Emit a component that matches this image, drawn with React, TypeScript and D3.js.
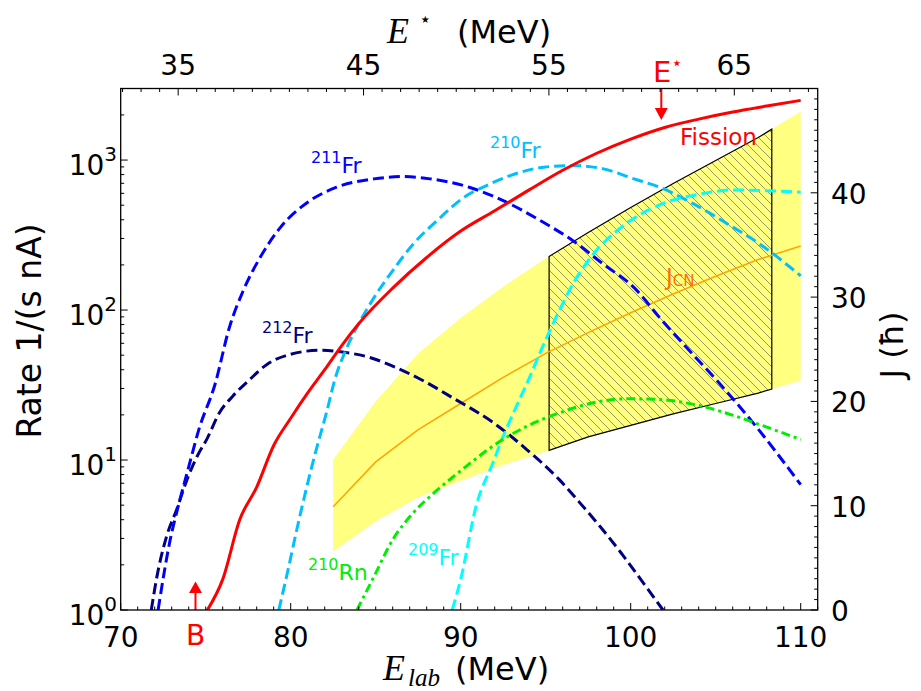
import React from 'react';
import * as d3 from 'd3';

// ---------- data ----------
const fissionE = [75.1, 76, 77, 78, 79, 80, 81, 82, 83, 84, 86, 88, 90, 92, 94, 96, 98, 100, 102, 104, 106, 108, 110];
const fissionR = [1.0, 1.6, 4.0, 6.6, 12.5, 19, 28, 40, 58, 81, 140, 224, 336, 459, 630, 855, 1110, 1380, 1650, 1875, 2090, 2290, 2500];

const fr211E = [72.2, 72.9, 73.4, 74.0, 74.6, 75.55, 76.4, 77.2, 78.2, 79.4, 81, 82.7, 84.9, 86.6, 88.2, 90.5, 92.5, 94.7, 96.6, 98.4, 100.2, 101.7, 103.3, 105.1, 107.2, 110];
const fr211R = [1, 2.9, 5, 9, 16, 32, 77, 134, 224, 356, 523, 659, 749, 776, 749, 659, 536, 394, 290, 202, 141, 89, 56, 33.6, 17.7, 6.85];

const fr212E = [71.8, 72.1, 72.7, 73.3, 73.9, 74.5, 75.1, 75.8, 76.6, 77.6, 78.6, 80, 81.7, 83.3, 84.7, 86.2, 87.6, 89.6, 91.9, 93.9, 95.8, 97, 98.2, 99.6, 100.9, 101.9];
const fr212R = [1, 1.6, 3.1, 4.7, 7.4, 10.6, 14, 20.6, 26.7, 34.5, 43.4, 50.7, 53.9, 52, 48.1, 41.3, 34.7, 25.7, 17.8, 11.7, 7.4, 5.2, 3.6, 2.27, 1.43, 1];

const fr210E = [79.3, 79.8, 80.35, 80.9, 81.5, 82.1, 82.6, 83.3, 84.1, 84.9, 86, 87.2, 88.6, 90.5, 91.1, 92.9, 94.9, 96.6, 98.4, 100.2, 101.7, 103.7, 105.7, 107.6, 110];
const fr210R = [1, 1.76, 3.4, 6.3, 11.7, 20.6, 34.5, 56, 85, 121, 183, 275, 394, 594, 642, 787, 897, 919, 873, 749, 659, 510, 375, 275, 169];

const fr209E = [89.5, 90, 90.9, 91.9, 92.5, 93.1, 94, 94.7, 95.6, 96.6, 97.8, 99.2, 100.6, 102.1, 104.1, 106, 108, 110];
const fr209R = [1, 1.6, 4.9, 9.6, 14.4, 20.6, 34.5, 53, 89, 149, 236, 338, 437, 523, 594, 632, 625, 610];

const rn210E = [83.9, 84.9, 86, 87.2, 88.4, 89.6, 90.6, 91.9, 93.9, 95.8, 97.8, 99.8, 101.7, 103.7, 105.6, 107.6, 110];
const rn210R = [1, 1.67, 2.94, 4.43, 6.0, 7.8, 9.6, 12.4, 16.8, 20.6, 24.1, 25.6, 25.3, 23.5, 20.6, 17.2, 13.7];

// J_CN band (right axis, units of hbar)
const bandE = [82.5, 85, 87.5, 90, 92.5, 95, 97.5, 100, 102.5, 105, 107.5, 110];
const bandMean = [9.9, 14.2, 17.3, 19.8, 22.3, 24.6, 26.6, 28.5, 30.3, 32.0, 33.6, 34.9];
const bandUpper = [14.4, 20.0, 24.6, 28.0, 31.0, 33.7, 36.2, 38.6, 40.9, 43.1, 45.3, 47.8];
const bandLower = [5.6, 8.5, 10.8, 12.4, 13.9, 15.2, 16.6, 17.7, 18.8, 19.8, 20.8, 22.0];
const hatchRange = [95.2, 108.3];

const barrierE = 74.4;
const estarE = 101.8;

const bottomMajor = [70, 80, 90, 100, 110];
const topMajor = [35, 45, 55, 65];
const leftMajor = [1, 10, 100, 1000];
const leftExp = ['0', '1', '2', '3'];
const rightMajor = [0, 10, 20, 30, 40];

// ---------- layout ----------
const W = 921, H = 691;
const L = 120.7, R = 817.7, T = 88.5, B = 610;

export default function App() {
  const x = d3.scaleLinear().domain([70, 111]).range([L, R]);
  const xTop = d3.scaleLinear().domain([31.9, 69.5]).range([L, R]);
  const y = d3.scaleLog().domain([1, 3000]).range([B, T]);
  const yJ = d3.scaleLinear().domain([0, 50]).range([B, T]);

  const rateLine = (E: number[], Rv: number[]) =>
    d3.line<number>().x((_, i) => x(E[i])).y((d) => y(d)).curve(d3.curveMonotoneX)(Rv) || '';

  const idx = bandE.map((_, i) => i);
  const bandPath = d3.area<number>()
    .x((i) => x(bandE[i]))
    .y0((i) => yJ(bandLower[i]))
    .y1((i) => yJ(bandUpper[i]))(idx) || '';
  const meanPath = d3.line<number>().x((i) => x(bandE[i])).y((i) => yJ(bandMean[i]))(idx) || '';

  const upI = d3.scaleLinear().domain(bandE).range(bandUpper);
  const loI = d3.scaleLinear().domain(bandE).range(bandLower);
  const [hs, he] = hatchRange;
  const polyE = [hs, ...bandE.filter((e) => e > hs && e < he), he];
  const pts: [number, number][] = [
    ...polyE.map((e) => [x(e), yJ(upI(e))] as [number, number]),
    ...polyE.slice().reverse().map((e) => [x(e), yJ(loI(e))] as [number, number]),
  ];
  const hatchPath = 'M' + pts.map((p) => p.join(',')).join('L') + 'Z';

  const bottomTicks = d3.range(70, 112, 1);
  const topTicks = d3.range(32, 70, 1);
  const leftMinor: number[] = [];
  for (let k = 0; k < 4; k++) for (let m = 2; m <= 9; m++) { const v = m * Math.pow(10, k); if (v <= 3000) leftMinor.push(v); }
  const rightTicks = d3.range(0, 51, 1);

  const font = 'DejaVu Sans';
  const serif = 'Liberation Serif';
  const dash = '11,5';

  const bx = x(barrierE);
  const ex = x(estarE);

  return (
    <svg width={W} height={H} style={{ position: 'absolute', left: 0, top: 0, background: '#fff' }} fontFamily={font}>
      <defs>
        <clipPath id="plotclip"><rect x={L} y={T} width={R - L} height={B - T} /></clipPath>
        <pattern id="hatch" patternUnits="userSpaceOnUse" width={9} height={9}>
          <path d="M0,0L9,9M-2,7L2,11M7,-2L11,2" stroke="#444" strokeWidth={0.55} />
        </pattern>
      </defs>
      <rect x={0} y={0} width={W} height={H} fill="#fff" />

      <g clipPath="url(#plotclip)">
        <path d={bandPath} fill="#ffff80" />
        <path d={hatchPath} fill="#ffff80" />
        <path d={hatchPath} fill="url(#hatch)" stroke="#000" strokeWidth={1.2} />
        <path d={meanPath} fill="none" stroke="#ffa500" strokeWidth={1.5} />

        <path d={rateLine(fr212E, fr212R)} fill="none" stroke="#000080" strokeWidth={3} strokeDasharray={dash} />
        <path d={rateLine(fr211E, fr211R)} fill="none" stroke="#0000ff" strokeWidth={3} strokeDasharray={dash} />
        <path d={rateLine(fr210E, fr210R)} fill="none" stroke="#00bfff" strokeWidth={3} strokeDasharray={dash} />
        <path d={rateLine(fr209E, fr209R)} fill="none" stroke="#00ffff" strokeWidth={3} strokeDasharray={dash} />
        <path d={rateLine(rn210E, rn210R)} fill="none" stroke="#00ee00" strokeWidth={3} strokeDasharray="9,4,3,4" />
        <path d={rateLine(fissionE, fissionR)} fill="none" stroke="#ff0000" strokeWidth={3} strokeLinejoin="round" />
      </g>

      {/* annotations */}
      <text x={311} y={173} fill="#0000ff" fontSize={22}><tspan fontSize={16} dy={-10}>211</tspan><tspan dy={10}>Fr</tspan></text>
      <text x={262} y={343} fill="#000080" fontSize={22}><tspan fontSize={16} dy={-10}>212</tspan><tspan dy={10}>Fr</tspan></text>
      <text x={490} y={158} fill="#00bfff" fontSize={22}><tspan fontSize={16} dy={-10}>210</tspan><tspan dy={10}>Fr</tspan></text>
      <text x={308} y={580} fill="#00ee00" fontSize={22}><tspan fontSize={16} dy={-10}>210</tspan><tspan dy={10}>Rn</tspan></text>
      <text x={408} y={565} fill="#00ffff" fontSize={22}><tspan fontSize={16} dy={-10}>209</tspan><tspan dy={10}>Fr</tspan></text>
      <text x={680} y={145} fill="#ff0000" fontSize={23}>Fission</text>
      <text x={666} y={285} fill="#ff7000" fontSize={23}>J<tspan fontSize={15} dy={1}>CN</tspan></text>

      {/* arrows */}
      <g fill="#ff0000" stroke="#ff0000">
        <line x1={bx} x2={bx} y1={B} y2={593} strokeWidth={2} />
        <path d={`M${bx - 6.5},593L${bx + 6.5},593L${bx},581.5Z`} stroke="none" />
        <line x1={ex} x2={ex} y1={T} y2={108} strokeWidth={2} />
        <path d={`M${ex - 6.5},108L${ex + 6.5},108L${ex},120Z`} stroke="none" />
      </g>
      <text x={bx} y={645} textAnchor="middle" fill="#ff0000" fontSize={28}>B</text>
      <text x={653} y={82} fill="#ff0000" fontSize={29}>E<tspan fontSize={18} dy={-13}>⋆</tspan></text>

      {/* frame */}
      <rect x={L} y={T} width={R - L} height={B - T} fill="none" stroke="#000" strokeWidth={1.3} />

      {/* ticks */}
      <g stroke="#000" strokeWidth={1}>
        {bottomTicks.map((t) => {
          const len = t % 10 === 0 ? 7 : 3.5;
          return <line key={'b' + t} x1={x(t)} x2={x(t)} y1={B} y2={B - len} />;
        })}
        {topTicks.map((t) => {
          const len = (t - 35) % 10 === 0 ? 7 : 3.5;
          return <line key={'t' + t} x1={xTop(t)} x2={xTop(t)} y1={T} y2={T + len} />;
        })}
        {leftMajor.map((t) => <line key={'lm' + t} x1={L} x2={L + 7} y1={y(t)} y2={y(t)} />)}
        {leftMinor.map((t) => <line key={'ln' + t} x1={L} x2={L + 3.5} y1={y(t)} y2={y(t)} />)}
        {rightTicks.map((t) => {
          const len = t % 10 === 0 ? 7 : 3.5;
          return <line key={'r' + t} x1={R} x2={R - len} y1={yJ(t)} y2={yJ(t)} />;
        })}
      </g>

      {/* tick labels */}
      <g fontSize={28} fill="#000">
        {bottomMajor.map((t) => <text key={'bl' + t} x={x(t)} y={647} textAnchor="middle">{t}</text>)}
        {topMajor.map((t) => <text key={'tl' + t} x={xTop(t)} y={75} textAnchor="middle">{t}</text>)}
        {leftMajor.map((t, i) => (
          <text key={'ll' + t} x={117} y={y(t) + 15} textAnchor="end">10<tspan fontSize={20} dy={-14}>{leftExp[i]}</tspan></text>
        ))}
        {rightMajor.map((t) => <text key={'rl' + t} x={831} y={yJ(t) + 11} textAnchor="start">{t}</text>)}
      </g>

      {/* axis labels */}
      <text x={383} y={680} fontFamily={serif} fontStyle="italic" fontSize={36}>E</text>
      <text x={408} y={686} fontFamily={serif} fontStyle="italic" fontSize={25}>lab</text>
      <text x={455} y={680} fontSize={32}>(MeV)</text>

      <text x={387} y={43} fontFamily={serif} fontStyle="italic" fontSize={36}>E</text>
      <text x={419} y={26} fontSize={20}>⋆</text>
      <text x={457} y={43} fontSize={32}>(MeV)</text>

      <text transform="translate(41,331) rotate(-90)" textAnchor="middle" fontSize={33}>Rate 1/(s nA)</text>
      <text transform="translate(903,345) rotate(-90)" textAnchor="middle" fontSize={32}>J (ħ)</text>
    </svg>
  );
}
